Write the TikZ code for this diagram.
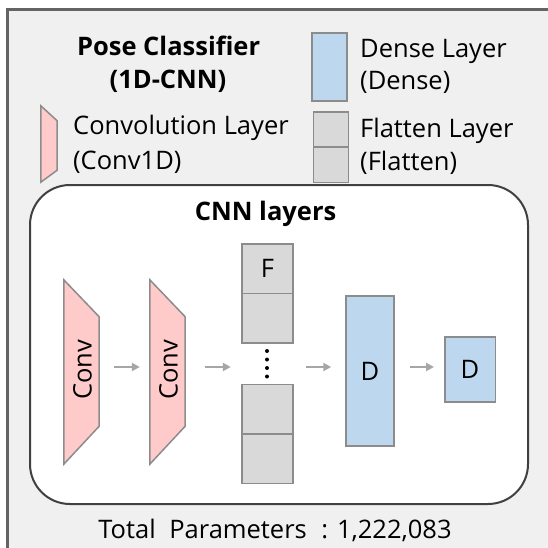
\documentclass[tikz,border=0pt]{standalone}
\usepackage{fontspec}
\setmainfont{Open Sans}
\usepackage{tikz}
\usetikzlibrary{arrows.meta, calc}
\definecolor{bggray}{HTML}{F0F0F0}
\definecolor{framegray}{HTML}{646464}
\definecolor{boxdark}{HTML}{404040}
\definecolor{edgegray}{HTML}{8C8C8C}
\definecolor{arrowgray}{HTML}{A6A6A6}
\definecolor{convpink}{HTML}{FFCACA}
\definecolor{denseblue}{HTML}{BDD7EE}
\definecolor{flatgray}{HTML}{D9D9D9}
\tikzset{>={Stealth[scale=1]}}
\tikzset{
  layerfont/.style={font=\fontsize{25.5}{30}\selectfont},
  convlayer/.style={draw=edgegray, fill=convpink, line width=1.5pt},
  convbox/.style={inner sep=0, minimum width=35pt, minimum height=184pt},
  denselayer/.style={draw=edgegray, fill=denseblue, line width=1.5pt, inner sep=0, layerfont},
  flatlayer/.style={draw=edgegray, fill=flatgray, line width=1.5pt, inner sep=0,
    minimum width=51pt, minimum height=49.5pt, layerfont},
  flow/.style={-{Triangle[length=8pt,width=8pt]}, draw=arrowgray, line width=2pt},
  legendtext/.style={anchor=base west, inner sep=0, layerfont},
  cnnframe/.style={draw=boxdark, fill=white, line width=2pt, rounded corners=40pt, inner sep=0},
}

\begin{document}
\begin{tikzpicture}[x=1pt, y=-1pt]
    \useasboundingbox (0,0) rectangle (548,548);
    \clip (0,0) rectangle (548,548);
    \fill[white] (0,0) rectangle (548,548);
    \draw[framegray, fill=bggray, line width=3pt] (7.5,9.5) rectangle (570,570);

    \node[anchor=base, inner sep=0, layerfont, font=\fontsize{25.5}{30}\bfseries] (title) at (168.6,56) {Pose Classifier};
    \node[anchor=base, inner sep=0, layerfont, font=\fontsize{25.5}{30}\bfseries] (subtitle) at (168,89) {(1D-CNN)};

    \node[denselayer, minimum width=35pt, minimum height=68pt] (legdense) at (329.5,67) {};
    \node[legendtext] (legdensea) at (360,57.5) {Dense Layer};
    \node[legendtext] (legdenseb) at (360,90) {(Dense)};

    \node[convbox, minimum width=16pt, minimum height=76pt] (legconv) at (49,144) {};
    \draw[convlayer] (legconv.north west) -- ([yshift=-15pt]legconv.north east) -- ([yshift=12pt]legconv.south east) -- (legconv.south west) -- cycle;
    \node[legendtext] (legconva) at (73,135) {Convolution Layer};
    \node[legendtext] (legconvb) at (73,169.5) {(Conv1D)};

    \node[flatlayer, minimum width=35pt, minimum height=35pt] (legflata) at (331,129.75) {};
    \node[flatlayer, minimum width=35pt, minimum height=35pt] (legflatb) at (331,164.75) {};
    \node[legendtext] (legflattena) at (360,137.5) {Flatten Layer};
    \node[legendtext] (legflattenb) at (360,171) {(Flatten)};

    \node[cnnframe, minimum width=498pt, minimum height=319pt] (cnnbox) at (279,344.5) {};
    \node[anchor=base, inner sep=0, font=\fontsize{25.5}{30}\bfseries] (cnntitle) at (265.6,220) {CNN layers};

    \node[convbox] (conv1) at (81.5,372) {};
    \draw[convlayer] (conv1.north west) -- ([yshift=-37pt]conv1.north east) -- ([yshift=38pt]conv1.south east) -- (conv1.south west) -- cycle;
    \node[rotate=90, inner sep=0, layerfont] (conv1txt) at (82.5,370) {Conv};
    \node[convbox] (conv2) at (167.5,372) {};
    \draw[convlayer] (conv2.north west) -- ([yshift=-37pt]conv2.north east) -- ([yshift=38pt]conv2.south east) -- (conv2.south west) -- cycle;
    \node[rotate=90, inner sep=0, layerfont] (conv2txt) at (168.5,370) {Conv};

    \node[flatlayer] (flat1) at (267.5,268.5) {F};
    \node[flatlayer] (flat2) at (267.5,318) {};
    \node[flatlayer] (flat3) at (267.5,409) {};
    \node[flatlayer] (flat4) at (267.5,458.5) {};
    \node[inner sep=0, minimum width=51pt, minimum height=239pt] (flat) at (267.5,362.5) {};
    \foreach \dy in {351,359.5,368,376.5}
      \fill[black] (267,\dy) circle (2pt);

    \node[denselayer, minimum width=48pt, minimum height=150pt] (dense1) at (370,371) {D};
    \node[denselayer, minimum width=50.5pt, minimum height=65pt] (dense2) at (470,369.5) {D};

    \coordinate (axis) at (0,367);
    \draw[flow, shorten <=14.5pt, shorten >=10pt] (conv1.east |- axis) -- (conv2.west |- axis);
    \draw[flow, shorten <=19.5pt, shorten >=11pt] (conv2.east |- axis) -- (flat.west |- axis);
    \draw[flow, shorten <=13pt, shorten >=14pt] (flat.east |- axis) -- (dense1.west |- axis);
    \draw[flow, shorten <=15pt, shorten >=10pt] (dense1.east |- axis) -- (dense2.west |- axis);

    \node[anchor=base, inner sep=0, layerfont] (total) at (275,538) {Total\hspace{7pt} Parameters\hspace{8pt} : 1,222,083};
  \end{tikzpicture}
\end{document}
